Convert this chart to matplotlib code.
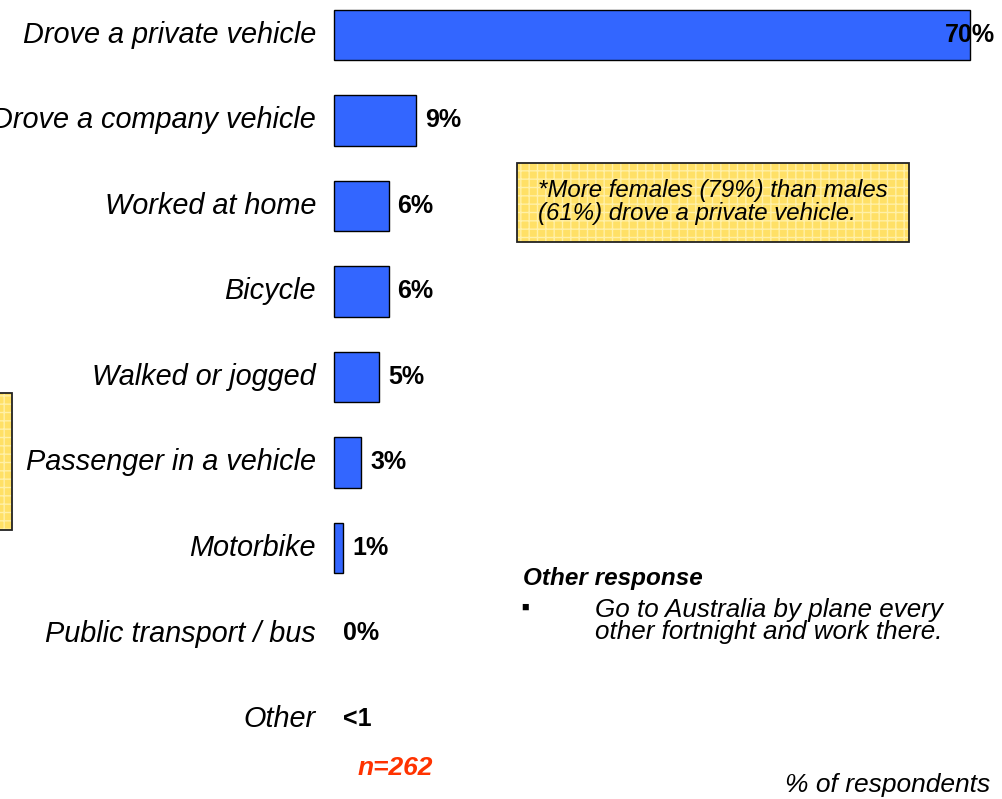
import matplotlib.pyplot as plt
from matplotlib.patches import Rectangle

plt.rcParams['font.family'] = ['Liberation Sans', 'DejaVu Sans']
plt.rcParams['hatch.linewidth'] = 1.0

# data
categories = ["Drove a private vehicle", "Drove a company vehicle", "Worked at home",
              "Bicycle", "Walked or jogged", "Passenger in a vehicle", "Motorbike",
              "Public transport / bus", "Other"]
values = [70, 9, 6, 6, 5, 3, 1, 0, 0]
value_labels = ["70%", "9%", "6%", "6%", "5%", "3%", "1%", "0%", "<1"]
note_text = "*More females (79%) than males\n(61%) drove a private vehicle."
other_title = "Other response"
other_text = "Go to Australia by plane every\nother fortnight and work there."
n_text = "n=262"
unit_text = "% of respondents"

W, H = 1003, 799
fig = plt.figure(figsize=(W / 100, H / 100), dpi=100)


def fx(px):
    return px / W


def fy(py):
    return 1 - py / H


# bars axis: x 0..70 spans pixel 334..970, rows every 85.5 px from 35
ax = fig.add_axes([fx(334), 0, fx(970 - 334), 1])
ax.set_xlim(0, 70)
ax.set_ylim((H - 35) / 85.5, -35 / 85.5)
ax.axis("off")

pos = list(range(len(categories)))
bars = ax.barh(pos, values, height=0.59, color="#3366FF", edgecolor="black",
               linewidth=[1 if v > 0 else 0 for v in values])
for b in bars:
    b.set_clip_on(False)

for i, (cat, v, lab) in enumerate(zip(categories, values, value_labels)):
    ax.annotate(cat, xy=(0, i), xytext=(-13, 0), textcoords="offset points",
                ha="right", va="center", fontsize=20.8, style="italic")
    if v > 50:
        ax.annotate(lab, xy=(v, i), xytext=(0, 0), textcoords="offset points",
                    ha="center", va="center", fontsize=18, fontweight="bold",
                    annotation_clip=False)
    else:
        ax.annotate(lab, xy=(v, i), xytext=(6.5, 0), textcoords="offset points",
                    ha="left", va="center", fontsize=18, fontweight="bold")


def yellow_box(x0, y0, x1, y1):
    fig.patches.append(Rectangle((fx(x0), fy(y1)), fx(x1 - x0), (y1 - y0) / H,
                                 transform=fig.transFigure, facecolor="#FFE066",
                                 edgecolor="#FFF0A8", hatch="++", linewidth=0))
    fig.patches.append(Rectangle((fx(x0), fy(y1)), fx(x1 - x0), (y1 - y0) / H,
                                 transform=fig.transFigure, facecolor="none",
                                 edgecolor="#222222", linewidth=1.3))


yellow_box(517, 163, 909, 242)
yellow_box(-20, 393, 12, 530)

fig.text(fx(538), fy(202), note_text, ha="left", va="center", fontsize=17.3,
         style="italic", linespacing=1.0)

fig.text(fx(523), fy(578), other_title, ha="left", va="center", fontsize=17.5,
         style="italic", fontweight="bold")
fig.text(fx(521), fy(608), "\u25a0", ha="left", va="center", fontsize=9)
fig.text(fx(595), fy(621), other_text, ha="left", va="center", fontsize=18.7,
         style="italic", linespacing=0.88)

fig.text(fx(358), fy(768), n_text, ha="left", va="center", fontsize=19,
         style="italic", fontweight="bold", color="#FF3300")
fig.text(fx(990), fy(785), unit_text, ha="right", va="center", fontsize=19,
         style="italic")

fig.savefig("out.png", dpi=100)
